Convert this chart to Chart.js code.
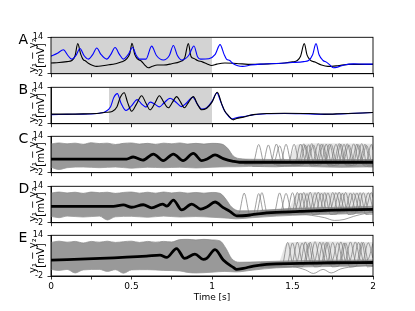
<!DOCTYPE html>
<html>
<head>
<meta charset="utf-8">
<script src="https://cdn.jsdelivr.net/npm/chart.js@4.4.1/dist/chart.umd.min.js"></script>
<style>
  body { margin: 0; background: #fff; }
  #fig { position: relative; width: 415px; height: 311px; overflow: hidden; background: #fff; }
  #fig canvas { position: absolute; left: 0; }
</style>
</head>
<body>
<div id="fig"></div>
<script>
// ---- data (time in s, value in mV) ----
var xTicks = [0, 0.25, 0.5, 0.75, 1, 1.25, 1.5, 1.75, 2];
var yTicks = [-2, 14];
var panelLetters = ['A', 'B', 'C', 'D', 'E'];

// shaded stimulus windows [start, end]
var shadeA = [0, 1.0];
var shadeB = [0.36, 1.0];

var aBlack = [[0,2.7],[0.05,2.9],[0.1,3.3],[0.13,3.8],[0.15,6.0],[0.166,11.2],[0.185,6.5],[0.2,4.2],[0.215,3.6],
  [0.232,2.6],[0.26,1.6],[0.284,1.2],[0.32,1.5],[0.36,1.9],[0.4,2.4],[0.44,3.2],[0.47,4.5],[0.49,7.0],[0.503,11.4],
  [0.52,6.5],[0.537,4.5],[0.56,3.6],[0.58,2.0],[0.604,0.6],[0.63,1.3],[0.66,1.8],[0.7,1.8],[0.75,2.4],[0.8,3.3],
  [0.83,4.9],[0.853,11.2],[0.87,5.5],[0.888,4.7],[0.91,3.8],[0.94,3.2],[0.97,2.3],[0.998,1.6],[1.03,2.2],[1.08,2.7],
  [1.15,2.5],[1.25,2.1],[1.35,2.3],[1.45,2.7],[1.5,3.2],[1.53,3.8],[1.55,5.7],[1.573,11.2],[1.59,6.3],[1.61,4.0],
  [1.64,3.1],[1.68,1.8],[1.72,1.2],[1.78,1.5],[1.85,2.1],[1.95,2.1],[2.0,2.1]];
var aBlue = [[0,5.7],[0.04,7.0],[0.077,8.5],[0.105,6.0],[0.128,4.4],[0.155,6.0],[0.18,9.1],[0.205,6.0],[0.232,4.4],
  [0.26,6.5],[0.284,9.3],[0.31,6.5],[0.346,4.4],[0.372,6.5],[0.398,9.5],[0.425,6.5],[0.449,4.4],[0.48,6.5],
  [0.507,9.5],[0.53,6.0],[0.553,4.4],[0.59,4.4],[0.625,10.1],[0.655,6.0],[0.698,4.0],[0.735,6.0],[0.76,10.4],
  [0.785,6.0],[0.812,4.0],[0.855,6.0],[0.888,10.2],[0.91,5.5],[0.93,4.4],[0.98,4.6],[1.02,6.5],[1.05,10.8],
  [1.075,6.5],[1.09,4.4],[1.11,3.8],[1.13,2.5],[1.16,1.5],[1.19,1.2],[1.24,1.8],[1.3,2.2],[1.4,2.5],[1.5,2.9],
  [1.57,3.3],[1.6,3.8],[1.625,6.3],[1.646,11.2],[1.665,6.3],[1.69,3.8],[1.71,3.1],[1.73,2.0],[1.753,0.6],
  [1.78,0.9],[1.82,1.8],[1.88,2.3],[1.95,2.2],[2.0,2.2]];

var bBlack = [[0,2.2],[0.1,2.2],[0.2,2.3],[0.3,2.6],[0.34,3.0],[0.38,3.4],[0.41,5.5],[0.43,9.5],[0.455,11.6],
  [0.475,7.5],[0.501,3.5],[0.53,6.5],[0.563,10.3],[0.59,7.0],[0.615,4.1],[0.645,7.0],[0.673,10.3],[0.7,7.5],
  [0.729,5.0],[0.755,7.5],[0.78,9.9],[0.805,7.5],[0.828,5.0],[0.855,7.5],[0.884,9.9],[0.91,6.5],[0.936,4.1],
  [0.967,4.8],[1.0,7.5],[1.033,11.8],[1.06,6.7],[1.08,3.5],[1.1,1.8],[1.132,-0.3],[1.153,0.3],[1.195,0.9],
  [1.257,2.0],[1.34,2.5],[1.45,2.6],[1.6,2.5],[1.7,2.2],[1.8,2.4],[2.0,2.9]];
var bBlue = [[0,2.0],[0.1,2.1],[0.2,2.2],[0.3,2.6],[0.34,3.4],[0.37,5.5],[0.39,9.5],[0.412,11.2],[0.435,7.0],
  [0.466,3.8],[0.5,5.8],[0.535,8.6],[0.565,6.5],[0.59,5.3],[0.615,7.5],[0.645,6.6],[0.673,5.4],[0.7,7.0],
  [0.74,9.2],[0.78,7.2],[0.81,5.5],[0.84,7.0],[0.88,9.6],[0.91,6.5],[0.936,4.4],[0.967,5.0],[1.0,7.8],
  [1.03,11.5],[1.055,7.5],[1.075,4.0],[1.1,1.5],[1.125,0.1],[1.15,0.6],[1.2,1.2],[1.26,2.0],[1.34,2.4],
  [1.45,2.5],[1.55,2.4],[1.7,2.1],[1.8,2.3],[2.0,2.9]];

// C: ensemble envelope, envelope of the late spiking traces, mean, and some visible single traces
var cUpper = [[0,10.6],[0.05,11.1],[0.1,10.7],[0.15,11.0],[0.2,10.5],[0.25,11.2],[0.3,10.8],[0.35,11.0],[0.4,10.4],
  [0.45,10.9],[0.5,11.1],[0.55,10.6],[0.6,10.9],[0.65,10.5],[0.7,11.0],[0.75,10.7],[0.8,11.1],[0.85,10.6],[0.9,10.9],
  [0.95,10.6],[1.0,10.9],[1.06,10.6],[1.1,8.5],[1.13,5.5],[1.17,4.2],[1.25,3.9],[1.5,3.8],[2.0,3.8]];
var cLower = [[0,0.4],[0.05,-0.6],[0.1,0.2],[0.2,0.5],[0.3,0.2],[0.4,0.5],[0.5,0.0],[0.6,0.4],[0.7,0.2],[0.8,0.4],
  [0.9,0.1],[1.0,0.4],[1.1,0.6],[1.15,0.6],[1.3,0.9],[1.6,0.7],[1.8,0.4],[2.0,0.6]];
var cSpikeTop = [[1.48,3.8],[1.53,10.4],[1.7,10.9],[2.0,10.7]];
var cMean = [[0,4.0],[0.3,4.0],[0.47,4.0],[0.51,4.9],[0.57,3.5],[0.636,6.2],[0.697,3.3],[0.76,6.2],[0.82,3.3],
  [0.884,6.5],[0.936,3.3],[0.97,4.0],[1.019,5.8],[1.07,4.2],[1.132,3.0],[1.17,2.6],[1.4,2.6],[1.7,2.6],[2.0,2.6]];
var cSingles = [
  [[1.2,2.0],[1.255,2.2],[1.29,10.4],[1.325,2.0],[1.365,2.2],[1.40,10.6],[1.435,2.0],[1.475,2.2],[1.51,10.5],
   [1.545,2.0],[1.585,2.2],[1.62,10.8],[1.655,2.0],[1.695,2.2],[1.73,10.6],[1.765,2.0],[1.805,2.2],[1.84,10.7],
   [1.875,2.0],[1.915,2.2],[1.95,10.5],[1.985,2.0],[2.0,2.2]],
  [[1.2,1.6],[1.315,1.8],[1.35,10.2],[1.385,1.6],[1.425,1.8],[1.46,10.5],[1.495,1.6],[1.535,1.8],[1.57,10.7],
   [1.605,1.6],[1.645,1.8],[1.68,10.6],[1.715,1.6],[1.755,1.8],[1.79,10.8],[1.825,1.6],[1.865,1.8],[1.90,10.6],
   [1.935,1.6],[2.0,1.8]],
  [[1.3,2.4],[1.515,2.4],[1.55,10.6],[1.585,2.2],[1.625,2.4],[1.66,10.8],[1.695,2.2],[1.735,2.4],[1.77,10.5],
   [1.805,2.2],[1.845,2.4],[1.88,10.7],[1.915,2.2],[1.955,2.4],[1.99,10.4],[2.0,8.0]],
  [[1.4,1.2],[1.565,1.4],[1.60,10.3],[1.635,1.2],[1.675,1.4],[1.71,10.6],[1.745,1.2],[1.785,1.4],[1.82,10.5],
   [1.855,1.2],[1.895,1.4],[1.93,10.8],[1.965,1.2],[2.0,1.4]],
  [[1.2,2.8],[1.385,2.8],[1.42,9.8],[1.455,2.6],[1.595,2.8],[1.63,10.2],[1.665,2.6],[1.705,2.8],[1.74,10.4],
   [1.775,2.6],[1.815,2.8],[1.85,10.2],[1.885,2.6],[1.925,2.8],[1.96,10.0],[1.995,2.6],[2.0,2.8]],
  [[1.25,0.8],[1.4,0.6],[1.5,1.0],[1.545,1.2],[1.58,10.1],[1.615,1.0],[1.655,1.2],[1.69,10.4],[1.725,1.0],
   [1.765,1.2],[1.80,10.6],[1.835,1.0],[1.875,1.2],[1.91,10.3],[1.945,1.0],[2.0,0.6]]
];

var dUpper = [[0,11.0],[0.05,11.5],[0.1,11.1],[0.15,11.4],[0.2,10.9],[0.25,11.5],[0.3,11.2],[0.35,11.4],[0.4,10.9],
  [0.45,11.3],[0.5,11.5],[0.55,11.0],[0.6,11.4],[0.65,11.0],[0.7,11.5],[0.75,11.1],[0.8,11.4],[0.85,11.0],[0.9,11.3],
  [0.95,11.0],[1.0,11.3],[1.05,10.9],[1.09,8.0],[1.12,5.0],[1.17,3.2],[1.3,3.4],[1.5,4.3],[1.8,4.8],[2.0,5.2]];
var dLower = [[0,0.8],[0.05,0.2],[0.1,0.9],[0.2,0.5],[0.3,0.9],[0.35,-0.8],[0.4,0.6],[0.5,0.8],[0.6,0.4],[0.7,0.9],
  [0.8,0.5],[0.9,0.7],[1.0,0.4],[1.1,0.0],[1.15,-0.3],[1.25,0.2],[1.4,0.9],[1.6,1.5],[1.8,1.8],[2.0,2.4]];
var dSpikeTop = [[1.48,4.3],[1.53,11.0],[1.7,11.4],[2.0,11.2]];
var dMean = [[0,5.2],[0.387,5.2],[0.449,5.8],[0.501,4.8],[0.573,5.9],[0.625,4.5],[0.693,6.2],[0.72,5.3],[0.76,7.9],
  [0.812,3.6],[0.874,6.2],[0.93,4.0],[0.97,5.0],[1.019,7.1],[1.07,4.6],[1.111,3.0],[1.153,1.0],[1.24,1.4],[1.339,2.3],
  [1.546,2.95],[1.753,3.5],[2.0,3.9]];
var dSingles = [
  [[1.12,2.0],[1.165,2.0],[1.20,11.0],[1.235,1.6],[1.275,1.8],[1.31,11.2],[1.345,1.8],[1.385,2.0],[1.42,11.1],
   [1.455,2.0],[1.495,2.2],[1.53,11.3],[1.565,2.2],[1.605,2.4],[1.64,11.2],[1.675,2.4],[1.715,2.6],[1.75,11.3],
   [1.785,2.6],[1.825,2.8],[1.86,11.1],[1.895,2.8],[1.935,3.0],[1.97,11.2],[2.0,4.0]],
  [[1.15,1.2],[1.255,1.4],[1.29,10.8],[1.325,1.4],[1.465,2.2],[1.50,11.2],[1.535,2.2],[1.575,2.4],[1.61,11.4],
   [1.645,2.4],[1.685,2.6],[1.72,11.1],[1.755,2.6],[1.795,2.8],[1.83,11.3],[1.865,2.8],[1.905,3.0],[1.94,11.2],
   [1.975,3.0],[2.0,3.2]],
  [[1.3,2.8],[1.425,2.8],[1.46,10.9],[1.495,2.8],[1.535,3.0],[1.57,11.3],[1.605,3.0],[1.645,3.2],[1.68,11.0],
   [1.715,3.2],[1.755,3.4],[1.79,11.4],[1.825,3.4],[1.865,3.6],[1.90,11.1],[1.935,3.6],[2.0,3.8]],
  [[1.3,3.4],[1.515,3.6],[1.55,11.1],[1.585,3.6],[1.625,3.8],[1.66,11.4],[1.695,3.8],[1.735,4.0],[1.77,11.2],
   [1.805,4.0],[1.845,4.2],[1.88,11.0],[1.915,4.2],[1.955,4.4],[1.99,11.3],[2.0,9.0]],
  [[1.3,1.6],[1.555,1.8],[1.59,10.8],[1.625,1.6],[1.665,1.8],[1.70,11.2],[1.735,1.6],[1.775,1.8],[1.81,11.0],
   [1.845,1.6],[1.885,1.8],[1.92,11.2],[1.955,1.6],[2.0,1.8]],
  [[1.3,1.5],[1.55,1.8],[1.62,1.2],[1.7,0.2],[1.76,-1.0],[1.82,-0.6],[1.88,0.8],[1.95,2.0],[2.0,2.4]]
];

var eUpper = [[0,11.2],[0.05,11.7],[0.1,11.3],[0.15,11.6],[0.2,11.0],[0.25,11.6],[0.3,11.3],[0.35,11.7],[0.4,11.2],
  [0.45,11.5],[0.5,11.7],[0.55,11.2],[0.6,11.6],[0.65,11.3],[0.7,11.6],[0.75,11.4],[0.8,12.3],[0.85,12.4],
  [0.9,12.2],[0.95,12.4],[1.0,12.2],[1.05,11.8],[1.09,8.5],[1.12,5.0],[1.17,3.4],[1.3,3.6],[1.5,4.0],[2.0,4.3]];
var eLower = [[0,0.6],[0.05,0.2],[0.1,0.6],[0.15,-0.8],[0.2,0.4],[0.3,0.6],[0.35,-0.2],[0.4,0.5],[0.45,-0.9],
  [0.5,0.4],[0.6,0.5],[0.7,0.2],[0.8,0.0],[0.85,-0.6],[0.9,-0.8],[1.0,-0.5],[1.08,-0.2],[1.15,-0.4],[1.25,0.3],
  [1.4,1.2],[1.6,1.6],[1.8,1.8],[2.0,2.0]];
var eSpikeTop = [[1.42,3.9],[1.47,11.2],[1.7,11.6],[2.0,11.4]];
var eMean = [[0,4.25],[0.304,4.9],[0.594,5.8],[0.677,6.2],[0.718,5.3],[0.78,8.8],[0.83,4.9],[0.894,6.6],[0.946,4.5],
  [0.967,4.9],[1.019,8.4],[1.07,4.25],[1.132,1.4],[1.153,0.6],[1.195,1.0],[1.257,1.9],[1.339,2.6],[1.546,2.95],
  [1.753,3.2],[2.0,3.3]];
var eSingles = [
  [[1.3,2.0],[1.435,2.2],[1.47,11.2],[1.505,2.2],[1.545,2.2],[1.58,11.4],[1.615,2.4],[1.655,2.4],[1.69,11.2],
   [1.725,2.6],[1.765,2.6],[1.80,11.4],[1.835,2.8],[1.875,2.8],[1.91,11.2],[1.945,3.0],[2.0,3.0]],
  [[1.3,2.4],[1.465,2.4],[1.50,11.0],[1.535,2.4],[1.575,2.4],[1.61,11.3],[1.645,2.6],[1.685,2.6],[1.72,11.2],
   [1.755,2.8],[1.795,2.8],[1.83,11.0],[1.865,3.0],[1.905,3.0],[1.94,11.2],[1.975,3.0],[2.0,3.2]],
  [[1.3,2.8],[1.495,2.8],[1.53,11.3],[1.565,2.8],[1.605,3.0],[1.64,11.5],[1.675,3.0],[1.715,3.2],[1.75,11.2],
   [1.785,3.2],[1.825,3.4],[1.86,11.4],[1.895,3.4],[1.935,3.6],[1.97,11.1],[2.0,5.0]],
  [[1.3,3.2],[1.525,3.4],[1.56,11.0],[1.595,3.4],[1.635,3.6],[1.67,11.3],[1.705,3.6],[1.745,3.8],[1.78,11.1],
   [1.815,3.8],[1.855,4.0],[1.89,11.4],[1.925,4.0],[1.965,4.2],[2.0,10.8]],
  [[1.3,1.6],[1.565,1.8],[1.60,10.8],[1.635,1.6],[1.675,1.8],[1.71,11.2],[1.745,1.6],[1.785,1.8],[1.82,11.0],
   [1.855,1.6],[1.895,1.8],[1.93,11.2],[1.965,1.6],[2.0,1.8]],
  [[1.3,1.5],[1.5,1.6],[1.58,0.4],[1.63,-1.0],[1.69,0.6],[1.74,-0.8],[1.8,0.8],[1.9,1.8],[2.0,2.2]]
];

// ---- layout ----
var FONT = '"DejaVu Sans", sans-serif';
var plotLeft = 51, plotRight = 373, plotH = 41.5;
var plotTops = [36.5, 86, 135.5, 185, 234.5];

function pts(arr) { return arr.map(function(p) { return { x: p[0], y: p[1] }; }); }

function lineSet(arr, color, width, order) {
  return { data: pts(arr), borderColor: color, borderWidth: width, pointRadius: 0,
    fill: false, cubicInterpolationMode: 'monotone', order: order };
}
function shadeSet(span) {
  return { data: pts([[span[0], 14], [span[1], 14]]), borderWidth: 0, pointRadius: 0,
    backgroundColor: '#d3d3d3', fill: { value: -2 }, order: 20 };
}

var framePlugin = {
  id: 'frame',
  afterDatasetsDraw: function(chart) {
    var a = chart.chartArea, ctx = chart.ctx;
    ctx.save();
    ctx.strokeStyle = '#000';
    ctx.lineWidth = 0.9;
    ctx.strokeRect(a.left, a.top, a.right - a.left, a.bottom - a.top);
    ctx.fillStyle = '#000';
    ctx.font = '14px ' + FONT;
    ctx.textBaseline = 'alphabetic';
    ctx.textAlign = 'left';
    ctx.fillText(chart.options.plugins.frame.letter, 18.5, a.top + 6.5);
    ctx.restore();
  }
};

function makePanel(idx, datasets) {
  var bottom = idx === 4;
  var top = plotTops[idx];
  var canvasTop = Math.floor(top) - 8;
  var padTop = top - canvasTop;
  var xh = bottom ? 35 : 5;
  var h = Math.ceil(padTop + plotH + xh);
  var padBottom = h - padTop - plotH - xh;

  var c = document.createElement('canvas');
  c.width = 415; c.height = h;
  c.style.top = canvasTop + 'px';
  document.getElementById('fig').appendChild(c);

  new Chart(c, {
    type: 'line',
    data: { datasets: datasets },
    plugins: [framePlugin],
    options: {
      responsive: false, animation: false, events: [],
      layout: { padding: { left: 0, right: 415 - plotRight, top: padTop, bottom: padBottom } },
      plugins: { legend: { display: false }, tooltip: { enabled: false }, frame: { letter: panelLetters[idx] } },
      scales: {
        x: {
          type: 'linear', min: 0, max: 2,
          afterBuildTicks: function(s) { s.ticks = xTicks.map(function(v) { return { value: v }; }); },
          afterFit: function(s) { s.height = xh; },
          grid: { drawOnChartArea: false, color: '#000', tickLength: 3.5, tickWidth: 0.8 },
          border: { color: '#000', width: 0.9 },
          ticks: {
            display: bottom, color: '#000', padding: 1.5, maxRotation: 0, autoSkip: false,
            font: { family: FONT, size: 9 },
            callback: function(v) { return Math.abs(v * 2 - Math.round(v * 2)) < 1e-6 ? String(v) : ''; }
          },
          title: { display: bottom, text: 'Time [s]', color: '#000', font: { family: FONT, size: 9 },
            padding: { top: 0, bottom: 7.5 } }
        },
        y: {
          min: -2, max: 14,
          afterBuildTicks: function(s) { s.ticks = yTicks.map(function(v) { return { value: v }; }); },
          afterFit: function(s) { s.width = plotLeft; },
          grid: { drawOnChartArea: false, color: '#000', tickLength: 3.5, tickWidth: 0.8 },
          border: { color: '#000', width: 0.9 },
          ticks: { color: '#000', padding: 4.5, font: { family: FONT, size: 8 } },
          title: { display: true, text: ['y\u2081 \u2212 y\u2082', '[mV]'], color: '#000',
            font: { family: FONT, size: 10, lineHeight: 0.75 }, padding: { top: 30 } }
        }
      }
    }
  });
}

function ensemble(upper, lower, spikeTop, mean, singles) {
  var sets = [
    { data: pts(upper), borderColor: '#999', borderWidth: 0.8, pointRadius: 0, fill: false,
      cubicInterpolationMode: 'monotone', order: 12 },
    { data: pts(lower), borderColor: '#999', borderWidth: 0.8, pointRadius: 0, fill: 0,
      backgroundColor: 'rgba(128,128,128,0.8)', cubicInterpolationMode: 'monotone', order: 11 },
    { data: pts(spikeTop), borderWidth: 0, pointRadius: 0, fill: 0,
      backgroundColor: 'rgba(128,128,128,0.2)', cubicInterpolationMode: 'monotone', order: 13 }
  ];
  singles.forEach(function(s) { sets.push(lineSet(s, 'rgba(128,128,128,0.95)', 0.8, 10)); });
  sets.push(lineSet(mean, '#000', 2.8, 0));
  return sets;
}

makePanel(0, [shadeSet(shadeA), lineSet(aBlack, '#000', 1.1, 1), lineSet(aBlue, '#0000ff', 1.1, 0)]);
makePanel(1, [shadeSet(shadeB), lineSet(bBlue, '#0000ff', 1.1, 1), lineSet(bBlack, '#000', 1.1, 0)]);
makePanel(2, ensemble(cUpper, cLower, cSpikeTop, cMean, cSingles));
makePanel(3, ensemble(dUpper, dLower, dSpikeTop, dMean, dSingles));
makePanel(4, ensemble(eUpper, eLower, eSpikeTop, eMean, eSingles));
</script>
</body>
</html>
